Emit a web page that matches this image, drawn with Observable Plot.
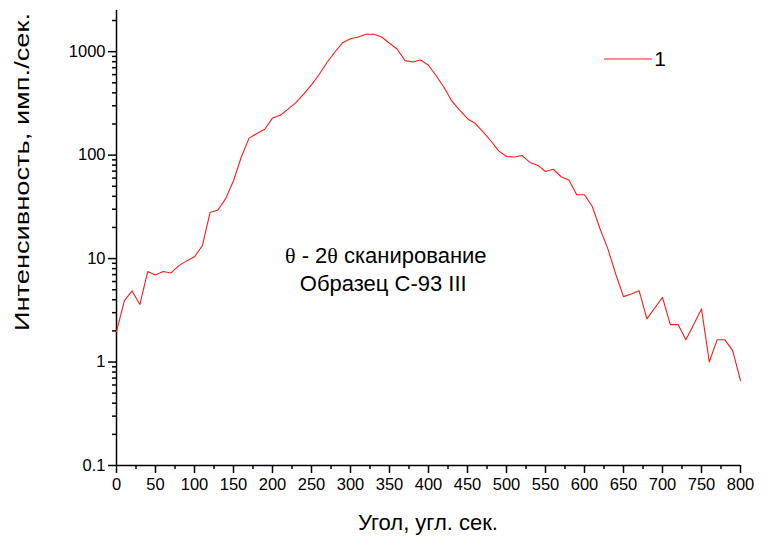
<!DOCTYPE html>
<html>
<head>
<meta charset="utf-8">
<script src="https://cdn.jsdelivr.net/npm/d3@7"></script>
<script src="https://cdn.jsdelivr.net/npm/@observablehq/plot@0.6"></script>
<style>
  html, body { margin: 0; padding: 0; background: #fff; }
  #chart { width: 771px; height: 537px; }
</style>
</head>
<body>
<div id="chart"></div>
<script>
const angle = [0, 10, 20, 30, 40, 50, 60, 70, 80, 90, 100, 110, 120, 130, 140, 150, 160, 170, 180, 190,
  200, 210, 220, 230, 240, 250, 260, 270, 280, 290, 300, 310, 320, 330, 340, 350, 360, 370, 380, 390,
  400, 410, 420, 430, 440, 450, 460, 470, 480, 490, 500, 510, 520, 530, 540, 550, 560, 570, 580, 590,
  600, 610, 620, 630, 640, 650, 660, 670, 680, 690, 700, 710, 720, 730, 740, 750, 760, 770, 780, 790, 800];
const intensity = [1.97, 3.9, 4.87, 3.6, 7.5, 6.95, 7.5, 7.26, 8.55, 9.5, 10.4, 13.3, 27.9, 29.5, 38, 56.5, 96, 146, 162, 178,
  228, 243, 278, 322, 388, 477, 605, 790, 993, 1222, 1334, 1387, 1472, 1472, 1387, 1205, 1055, 819, 796, 832,
  739, 582, 450, 332, 272, 225, 202, 168, 137, 110, 97, 96, 99, 85, 80, 69.5, 73, 61.8, 57.4, 41.4,
  41.4, 31.9, 19.3, 12.4, 7.1, 4.29, 4.55, 4.9, 2.61, 3.33, 4.22, 2.3, 2.3, 1.64, 2.3, 3.26, 1.0, 1.64, 1.64, 1.29, 0.66];
const seriesName = "1";
const xTicks = [0, 50, 100, 150, 200, 250, 300, 350, 400, 450, 500, 550, 600, 650, 700, 750, 800];
const xMinorTicks = [25, 75, 125, 175, 225, 275, 325, 375, 425, 475, 525, 575, 625, 675, 725, 775];
const yTicks = [0.1, 1, 10, 100, 1000];
const yMinorTicks = [0.2, 0.3, 0.4, 0.5, 0.6, 0.7, 0.8, 0.9, 2, 3, 4, 5, 6, 7, 8, 9,
  20, 30, 40, 50, 60, 70, 80, 90, 200, 300, 400, 500, 600, 700, 800, 900, 2000];
const xTitle = "Угол, угл. сек.";
const yTitle = "Интенсивность, имп./сек.";
const noteLine1 = "θ - 2θ сканирование";
const noteLine2 = "Образец С-93 III";

const data = angle.map((a, i) => ({angle: a, value: intensity[i]}));
const font = "'Liberation Sans', Arial, sans-serif";
const red = "#ff1a1a";

const chart = Plot.plot({
  width: 771,
  height: 537,
  marginLeft: 116,
  marginRight: 31,
  marginTop: 10,
  marginBottom: 72,
  style: {fontFamily: font, fontSize: "16px", color: "#000", background: "#fff"},
  x: {domain: [0, 800]},
  y: {type: "log", domain: [0.1, 2500]},
  marks: [
    Plot.axisX(xTicks, {tickSize: 8, tickPadding: 5, tickFormat: d => String(d), label: null, fontSize: 16.5, strokeWidth: 1.5}),
    Plot.axisX(xMinorTicks, {tickSize: 4, tickFormat: () => "", label: null, strokeWidth: 1.5}),
    Plot.axisY(yTicks, {tickSize: 8, tickPadding: 3, tickFormat: d => String(d), label: null, fontSize: 16.5, strokeWidth: 1.5}),
    Plot.axisY(yMinorTicks, {tickSize: 4, tickFormat: () => "", label: null, strokeWidth: 1.5}),
    Plot.ruleX([0], {stroke: "#000", strokeWidth: 1.5}),
    Plot.ruleY([0.1], {stroke: "#000", strokeWidth: 1.5}),
    Plot.line(data, {x: "angle", y: "value", stroke: red, strokeWidth: 1.1}),
    Plot.text([noteLine1], {x: 216, y: 10.7, text: d => d, textAnchor: "start", fontSize: 22, fill: "#000"}),
    Plot.text([noteLine2], {x: 235, y: 5.7, text: d => d, textAnchor: "start", fontSize: 22, fill: "#000"})
  ]
});

document.getElementById("chart").appendChild(chart);
const svg = d3.select(chart);

// serif theta as in the original
svg.selectAll("text").each(function() {
  const t = d3.select(this);
  const s = t.text();
  if (s.includes("θ") && t.selectAll("tspan").empty()) {
    const parts = s.split("θ");
    t.text(null);
    parts.forEach((p, i) => {
      if (i > 0) t.append("tspan").attr("font-family", "'Liberation Serif', 'DejaVu Serif', serif").text("θ");
      if (p) t.append("tspan").attr("xml:space", "preserve").text(p.replace(/ /g, "\u00a0"));
    });
  }
});

// axis titles
svg.append("text")
  .attr("x", 428).attr("y", 530)
  .attr("text-anchor", "middle")
  .attr("font-family", font).attr("font-size", 22)
  .text(xTitle);
svg.append("text")
  .attr("transform", "translate(29,172) rotate(-90)")
  .attr("text-anchor", "middle")
  .attr("font-family", font).attr("font-size", 21)
  .attr("textLength", 318).attr("lengthAdjust", "spacingAndGlyphs")
  .text(yTitle);

// legend
const lg = svg.append("g");
lg.append("line").attr("x1", 604).attr("x2", 652).attr("y1", 59).attr("y2", 59)
  .attr("stroke", red).attr("stroke-width", 1.1);
lg.append("text").attr("x", 660).attr("y", 66)
  .attr("font-family", font).attr("font-size", 21).text(seriesName);
</script>
</body>
</html>
